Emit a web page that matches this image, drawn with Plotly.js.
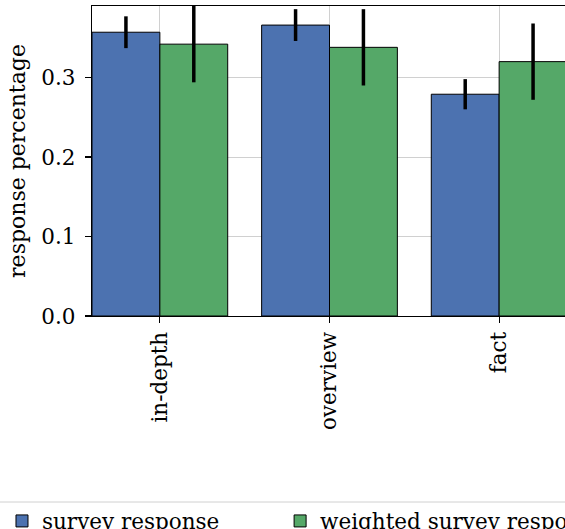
<!DOCTYPE html>
<html>
<head>
<meta charset="utf-8">
<script src="https://cdn.plot.ly/plotly-3.0.1.min.js"></script>
<style>
html, body { margin: 0; padding: 0; overflow: hidden; background: #fff; }
#chart { width: 700px; height: 529px; }
</style>
</head>
<body>
<div id="chart"></div>
<script>
const categories = ["in-depth", "overview", "fact"];
const surveyValues = [0.357, 0.366, 0.279];
const surveyErrors = [0.020, 0.020, 0.019];
const weightedValues = [0.342, 0.338, 0.320];
const weightedErrors = [0.048, 0.048, 0.048];
const seriesNames = ["survey response", "weighted survey response"];
const yTickVals = [0.0, 0.1, 0.2, 0.3];
const yTickText = ["0.0", "0.1", "0.2", "0.3"];

const family = "DejaVu Serif, serif";
const tickFont = { family: family, size: 21.5, color: "#000" };
const titleFont = { family: family, size: 22, color: "#000" };
const legendFont = { family: family, size: 21.5, color: "#000" };

const traces = [
  {
    type: "bar", name: seriesNames[0], x: categories, y: surveyValues, legend: "legend",
    marker: { color: "#4C72B0", line: { color: "#000", width: 1 } },
    error_y: { type: "data", array: surveyErrors, visible: true, color: "#000", thickness: 3.5, width: 0 }
  },
  {
    type: "bar", name: seriesNames[1], x: categories, y: weightedValues, legend: "legend2",
    marker: { color: "#55A868", line: { color: "#000", width: 1 } },
    error_y: { type: "data", array: weightedErrors, visible: true, color: "#000", thickness: 3.5, width: 0 }
  }
];

const legendBase = {
  orientation: "h", xanchor: "left", y: -0.595, yanchor: "top",
  bgcolor: "rgba(255,255,255,0)", borderwidth: 0, font: legendFont
};

const layout = {
  width: 700, height: 529,
  margin: { l: 92, r: 133, t: 6, b: 213, autoexpand: false },
  paper_bgcolor: "#fff", plot_bgcolor: "#fff",
  font: tickFont,
  barmode: "group", bargap: 0.2, bargroupgap: 0,
  showlegend: true,
  legend: Object.assign({}, legendBase, { x: -0.1895 }),
  legend2: Object.assign({}, legendBase, { x: 0.396 }),
  shapes: [
    { type: "line", xref: "paper", yref: "paper", x0: -0.3, x1: 1.2, y0: -0.6, y1: -0.6,
      line: { color: "#d0d0d0", width: 1 }, layer: "above" }
  ],
  xaxis: {
    type: "category", range: [-0.4, 2.4],
    showline: true, linecolor: "#000", linewidth: 1.25, mirror: true,
    ticks: "outside", ticklen: 6, tickwidth: 1.25, tickcolor: "#000",
    tickangle: -90, tickfont: tickFont,
    showgrid: true, gridcolor: "#d0d0d0", gridwidth: 1,
    zeroline: false
  },
  yaxis: {
    range: [0, 0.39],
    tickvals: yTickVals, ticktext: yTickText,
    showline: true, linecolor: "#000", linewidth: 1.25, mirror: true,
    ticks: "outside", ticklen: 6, tickwidth: 1.25, tickcolor: "#000",
    ticklabelstandoff: 5,
    tickfont: tickFont,
    showgrid: true, gridcolor: "#d0d0d0", gridwidth: 1,
    zeroline: false,
    title: { text: "response percentage", font: titleFont, standoff: 9 }
  }
};

Plotly.newPlot("chart", traces, layout, { displayModeBar: false, staticPlot: true });
</script>
</body>
</html>
